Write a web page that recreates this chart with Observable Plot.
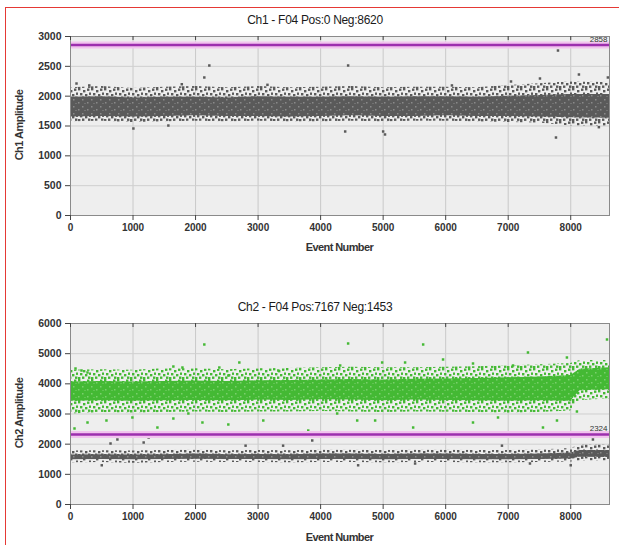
<!DOCTYPE html>
<html><head><meta charset="utf-8">
<script src="https://cdn.jsdelivr.net/npm/d3@7"></script>
<script src="https://cdn.jsdelivr.net/npm/@observablehq/plot@0.6"></script>
<style>
body{margin:0;background:#fff;width:619px;height:545px;position:relative;overflow:hidden;font-family:"Liberation Sans",Arial,sans-serif;}
#frame{position:absolute;left:5px;top:7px;width:640px;height:560px;border-left:1.5px solid #e53935;border-top:1.5px solid #e53935;}
.title{position:absolute;left:165px;width:300px;text-align:center;font-size:12px;letter-spacing:-0.3px;color:#1a1a1a;}
.xl{position:absolute;left:70px;width:539px;text-align:center;font-size:11px;font-weight:bold;letter-spacing:-0.6px;color:#333;}
.yl{position:absolute;left:19px;width:0;height:0;font-size:11px;font-weight:bold;letter-spacing:-0.5px;color:#333;}
.yl span{position:absolute;transform:translate(-50%,-50%) rotate(-90deg);white-space:nowrap;}
.panel{position:absolute;left:0;}
</style></head>
<body>
<div id="frame"></div>
<div class="panel" id="p1" style="top:0px"></div>
<div class="panel" id="p2" style="top:280px"></div>
<div class="title" id="t1" style="top:13px"></div>
<div class="title" id="t2" style="top:300px"></div>
<div class="xl" id="x1" style="top:241px"></div>
<div class="xl" id="x2" style="top:531px"></div>
<div class="yl" style="top:125px"><span id="y1"></span></div>
<div class="yl" style="top:413px"><span id="y2"></span></div>
<script>
// ---- data ----
const titles = ["Ch1 - F04 Pos:0 Neg:8620", "Ch2 - F04 Pos:7167 Neg:1453"];
const xLabel = "Event Number";
const yLabels = ["Ch1 Amplitude", "Ch2 Amplitude"];
const xTicks = [0,1000,2000,3000,4000,5000,6000,7000,8000];
const ch1YTicks = [0,500,1000,1500,2000,2500,3000];
const ch2YTicks = [0,1000,2000,3000,4000,5000,6000];
const ch1Threshold = 2858;
const ch2Threshold = 2324;

// Ch1 negative droplet cloud (band edges by event number)
const ch1X       = [0,500,1000,1500,2000,2500,3000,3500,4000,4500,5000,5500,6000,6500,7000,7500,8000,8620];
const ch1CoreLo  = [1650,1660,1650,1660,1670,1660,1660,1650,1660,1670,1660,1660,1670,1660,1660,1650,1640,1630];
const ch1CoreHi  = [1980,1990,1970,1980,1980,1970,1990,1980,1980,1990,1980,1990,1990,1980,2000,2010,2030,2030];
const ch1FringeLo= [1570,1580,1560,1570,1580,1570,1580,1570,1570,1580,1570,1580,1580,1570,1560,1550,1500,1490];
const ch1FringeHi= [2140,2160,2130,2150,2160,2140,2160,2140,2150,2160,2140,2150,2150,2140,2180,2210,2240,2230];
const ch1OutX = [96,2140,2220,4440,7796,8131,8594,7508,7045,1006,1565,4393,5000,5030,7764,1780,3150,6100,8450,300];
const ch1OutY = [2212,2313,2514,2514,2765,2363,2313,2296,2246,1458,1508,1408,1408,1358,1307,2200,2190,2180,1480,2180];

// Ch2 clouds
const ch2X         = [0,500,1000,1500,2000,2500,3000,3500,4000,4500,5000,5500,6000,6500,7000,7500,8000,8150,8620];
const posCoreLo    = [3420,3440,3420,3440,3450,3440,3460,3450,3470,3460,3440,3460,3450,3440,3420,3440,3420,3770,3800];
const posCoreHi    = [4060,4080,4060,4080,4090,4080,4100,4110,4130,4140,4130,4150,4160,4180,4200,4230,4280,4480,4530];
const posFringeLo  = [3000,3050,3030,3050,3070,3050,3070,3070,3080,3070,3050,3070,3060,3050,3030,3050,3100,3450,3500];
const posFringeHi  = [4450,4470,4450,4500,4500,4470,4500,4510,4530,4550,4530,4530,4550,4570,4600,4630,4670,4770,4770];
const negCoreLo    = [1480,1490,1480,1490,1500,1490,1490,1480,1490,1490,1480,1490,1490,1480,1480,1490,1510,1570,1560];
const negCoreHi    = [1640,1650,1640,1650,1670,1650,1660,1650,1670,1670,1660,1670,1670,1660,1660,1670,1710,1790,1790];
const negFringeLo  = [1380,1390,1370,1390,1400,1390,1390,1380,1390,1390,1380,1390,1390,1380,1380,1390,1410,1440,1440];
const negFringeHi  = [1770,1780,1770,1790,1800,1780,1790,1780,1800,1800,1790,1800,1800,1790,1790,1810,1860,1960,1960];
const posOutX = [2140,4440,5640,8580,7316,80,176,2700,2380,64,1390,2110,575,2524,4265,4872,5480,6437,6837,7556,7780,8099,3802,4585,4984,5351,5958,6437,7939,7077,4313,272,1790,1645,2524,3323,272,990,1645,1885,3083];
const posOutY = [5304,5337,5304,5470,5039,4508,4442,4707,4541,2520,2552,2718,2784,2652,3017,2784,2552,2718,2884,2552,2784,3083,2452,2784,4707,4707,4807,4674,4873,4608,4608,4376,4541,4574,4276,4442,2718,2884,2850,3017,2784];
const negOutX = [640,750,1250,1170,1790,3866,7348,8355,5511,2800,6900,8000,500,3400,4600];
const negOutY = [2022,2155,2221,2055,2330,2122,1359,2155,1359,1950,1950,1300,1300,1950,1300];

// ---- drawing ----
const GRAY = "#5a5a5a", GREEN = "#44b934";
function defs(){
  return () => {
    const ns = "http://www.w3.org/2000/svg";
    const d = document.createElementNS(ns, "defs");
    const sparse = (id, c) => `<pattern id="${id}" width="13" height="11" patternUnits="userSpaceOnUse">
        <rect x="0" y="0" width="2.4" height="2.4" fill="${c}"/><rect x="5" y="2" width="2.4" height="2.4" fill="${c}"/>
        <rect x="9" y="0.5" width="2.4" height="2.4" fill="${c}"/><rect x="2" y="5" width="2.4" height="2.4" fill="${c}"/>
        <rect x="7" y="6" width="2.4" height="2.4" fill="${c}"/><rect x="11" y="4.5" width="2.4" height="2.4" fill="${c}"/>
        <rect x="4" y="8.5" width="2.4" height="2.4" fill="${c}"/><rect x="10" y="8.5" width="2.4" height="2.4" fill="${c}"/>
        <rect x="0" y="9" width="2.4" height="2.4" fill="${c}"/></pattern>`;
    const core = (id, c, s) => `<pattern id="${id}" width="9" height="7" patternUnits="userSpaceOnUse">
        <rect width="9" height="7" fill="${c}"/>
        <rect x="1" y="1" width="1.5" height="1.5" fill="${s}"/><rect x="6" y="4" width="1.5" height="1.5" fill="${s}"/>
        <rect x="3.5" y="5" width="1" height="1" fill="${s}"/></pattern>`;
    d.innerHTML = sparse("spG", GRAY) + sparse("spV", GREEN) + core("coG", GRAY, "#8a8a8a") + core("coV", GREEN, "#7bd06e");
    return d;
  };
}
function band(xs, lo, hi){ return xs.map((x,i)=>({x, lo:lo[i], hi:hi[i]})); }
function pts(xs, ys){ return xs.map((x,i)=>({x, y:ys[i]})); }

function panel({height, mt, mb, yMax, yTicks, threshold, clouds, outliers}){
  const innerH = height - mt - mb;
  const marks = [
    defs(),
    Plot.frame({fill:"#eeeeee"}),
    Plot.gridX(xTicks, {stroke:"#c9c9c9", strokeOpacity:1}),
    Plot.gridY(yTicks, {stroke:"#cfcfcf", strokeOpacity:1}),
  ];
  for (const c of clouds){
    marks.push(Plot.areaY(band(c.x, c.flo, c.fhi), {x:"x", y1:"lo", y2:"hi", fill:c.pattern}));
    marks.push(Plot.areaY(band(c.x, c.clo, c.chi), {x:"x", y1:"lo", y2:"hi", fill:c.core}));
  }
  for (const o of outliers){
    marks.push(Plot.dot(pts(o.x, o.y), {x:"x", y:"y", symbol:"square", r:1.4, fill:o.color}));
  }
  marks.push(
    Plot.ruleY([threshold], {stroke:"#f2c4ee", strokeWidth:7}),
    Plot.ruleY([threshold], {stroke:"#9c2fae", strokeWidth:2.5}),
    Plot.text([threshold], {y:d=>d, x:()=>8620, text:d=>String(d), textAnchor:"end", dy:-6, dx:-2, fontSize:8, fill:"#333"}),
    Plot.frame({stroke:"#8a8a8a"}),
    Plot.tickX(xTicks, {x:d=>d, stroke:"#444", insetBottom: innerH-4}),
    Plot.axisX(xTicks, {tickSize:5, tickPadding:3, stroke:"#444", tickFormat:d=>String(d), label:null, fontSize:10, fontWeight:"bold", fill:"#333"}),
    Plot.axisY(yTicks, {tickSize:5, tickPadding:4, stroke:"#444", tickFormat:d=>String(d), label:null, fontSize:10.5, fontWeight:"bold", fill:"#333"})
  );
  return Plot.plot({
    width:619, height, marginLeft:70, marginRight:10, marginTop:mt, marginBottom:mb,
    style:{background:"transparent", fontFamily:"Liberation Sans, Arial, sans-serif", fontSize:"10px", color:"#222", overflow:"visible"},
    x:{domain:[0,8620], label:null},
    y:{domain:[0,yMax], label:null},
    marks
  });
}

document.getElementById("t1").textContent = titles[0];
document.getElementById("t2").textContent = titles[1];
document.getElementById("x1").textContent = xLabel;
document.getElementById("x2").textContent = xLabel;
document.getElementById("y1").textContent = yLabels[0];
document.getElementById("y2").textContent = yLabels[1];

document.getElementById("p1").append(panel({
  height:260, mt:36, mb:45, yMax:3000, yTicks:ch1YTicks, threshold:ch1Threshold,
  clouds:[{x:ch1X, clo:ch1CoreLo, chi:ch1CoreHi, flo:ch1FringeLo, fhi:ch1FringeHi, core:"url(#coG)", pattern:"url(#spG)"}],
  outliers:[{x:ch1OutX, y:ch1OutY, color:GRAY}]
}));
document.getElementById("p2").append(panel({
  height:265, mt:43, mb:41, yMax:6000, yTicks:ch2YTicks, threshold:ch2Threshold,
  clouds:[
    {x:ch2X, clo:posCoreLo, chi:posCoreHi, flo:posFringeLo, fhi:posFringeHi, core:"url(#coV)", pattern:"url(#spV)"},
    {x:ch2X, clo:negCoreLo, chi:negCoreHi, flo:negFringeLo, fhi:negFringeHi, core:"url(#coG)", pattern:"url(#spG)"}
  ],
  outliers:[{x:posOutX, y:posOutY, color:GREEN},{x:negOutX, y:negOutY, color:GRAY}]
}));
</script>
</body></html>
